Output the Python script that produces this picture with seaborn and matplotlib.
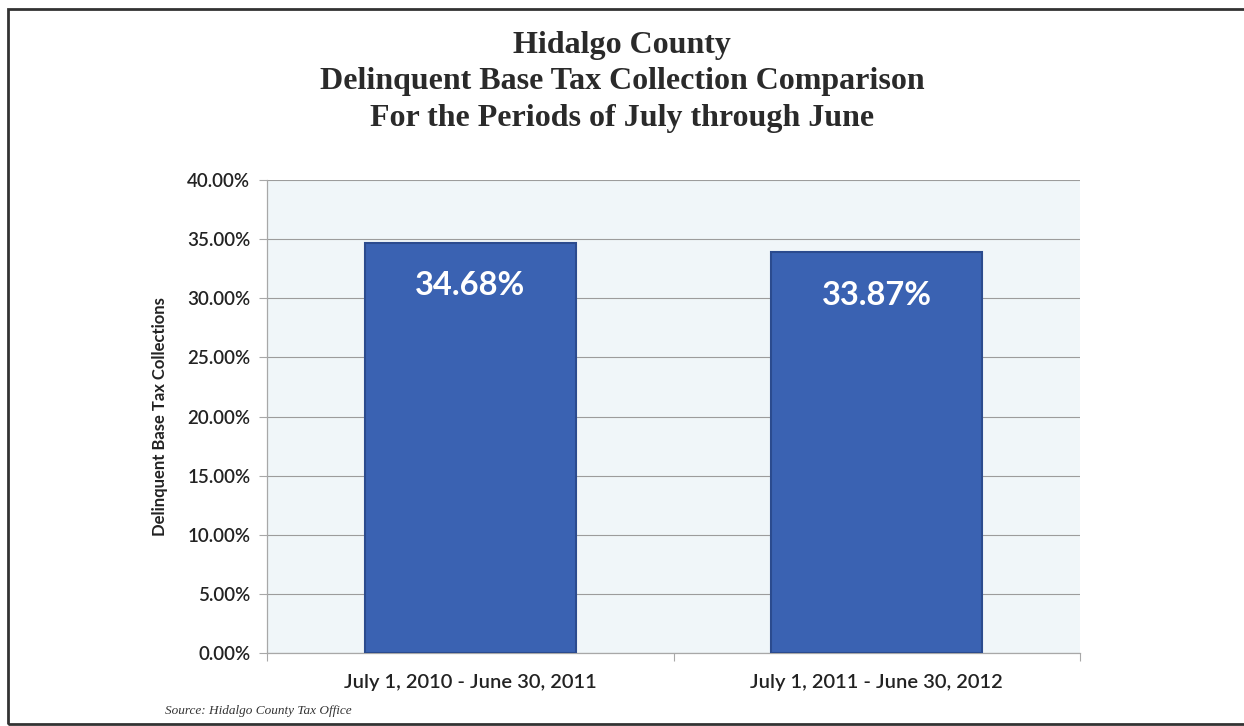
import matplotlib
matplotlib.use("Agg")
import matplotlib.pyplot as plt
import seaborn as sns
import pandas as pd
from matplotlib.patches import Rectangle
from matplotlib.ticker import FuncFormatter, FixedLocator

# Chart values
periods = ["July 1, 2010 - June 30, 2011", "July 1, 2011 - June 30, 2012"]
collection_pct = [34.68, 33.87]
y_ticks = [0, 5, 10, 15, 20, 25, 30, 35, 40]

title_lines = [
    "Hidalgo County",
    "Delinquent Base Tax Collection Comparison",
    "For the Periods of July through June",
]
y_label = "Delinquent Base Tax Collections"
source_note = "Source: Hidalgo County Tax Office"

BAR_COLOR = "#3a62b2"
BAR_EDGE = "#2b4b8e"
GRID_COLOR = "#9c9c9c"

sns.set_theme(style="white")
plt.rcParams["font.family"] = ["Lato", "DejaVu Sans"]

df = pd.DataFrame({"Period": periods, "Pct": collection_pct})

fig = plt.figure(figsize=(12.44, 7.26), dpi=100)
fig.patch.set_facecolor("white")
ax = fig.add_axes([267 / 1244, 73 / 726, 813 / 1244, 473 / 726])
ax.set_facecolor("#f0f6f9")

sns.barplot(data=df, x="Period", y="Pct", color=BAR_COLOR, saturation=1,
            width=0.52, edgecolor=BAR_EDGE, linewidth=1.5, ax=ax, zorder=3)

ax.set_ylim(0, 40)
ax.set_xlim(-0.5, len(periods) - 0.5)
ax.yaxis.set_major_locator(FixedLocator(y_ticks))
ax.yaxis.set_major_formatter(FuncFormatter(lambda v, _: f"{v:.2f}%"))
ax.grid(axis="y", color=GRID_COLOR, linewidth=0.8, zorder=0)
ax.set_axisbelow(True)

# category-boundary ticks like the spreadsheet chart
ax.set_xticks([i - 0.5 for i in range(len(periods) + 1)], minor=True)
ax.tick_params(axis="x", which="major", length=0, pad=15, labelsize=14.5,
               labelcolor="#222222")
ax.tick_params(axis="x", which="minor", length=6, width=0.8, color="#a8a8a8",
               direction="out", bottom=True)
ax.tick_params(axis="y", length=6, width=0.8, color="#a8a8a8", direction="out",
               left=True, labelsize=13.5, labelcolor="#222222", pad=6)
for lbl in ax.get_yticklabels() + ax.get_xticklabels():
    lbl.set_fontweight("semibold")

for side in ["top", "right"]:
    ax.spines[side].set_visible(False)
for side in ["left", "bottom"]:
    ax.spines[side].set_color("#a8a8a8")
    ax.spines[side].set_linewidth(0.9)

ax.set_xlabel("")
ax.set_ylabel(y_label, fontsize=12, fontweight="bold", color="#222222",
              labelpad=14)

for bar, val in zip(ax.patches, collection_pct):
    ax.text(bar.get_x() + bar.get_width() / 2, val - 3.6, f"{val:.2f}%",
            ha="center", va="center", color="white", fontsize=23.5,
            fontweight="bold", zorder=5)

fig.text(0.5, 1 - 82 / 726, "\n".join(title_lines), ha="center", va="center",
         fontsize=23, fontweight="bold", family=["Liberation Serif", "DejaVu Serif"],
         color="#2a2a2a", linespacing=1.32)

fig.text(165 / 1244, 1 - 711 / 726, source_note, ha="left", va="center",
         fontsize=9.5, style="italic", family=["Liberation Serif", "DejaVu Serif"],
         color="#333333")

fig.patches.append(Rectangle((8 / 1244, 2 / 726), 1.2, 715 / 726,
                             transform=fig.transFigure, fill=False,
                             edgecolor="#333333", linewidth=2, clip_on=False))

fig.savefig("out.png", dpi=100)
